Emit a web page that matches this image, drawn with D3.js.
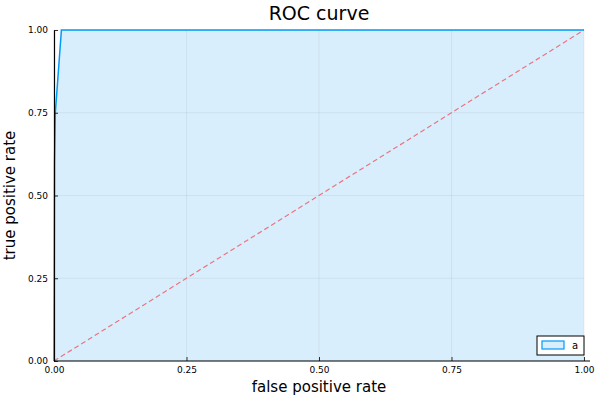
<!DOCTYPE html>
<html>
<head>
<meta charset="utf-8">
<script src="https://cdn.jsdelivr.net/npm/d3@7"></script>
<style>
  body { margin: 0; background: #fff; }
  text { font-family: "DejaVu Sans", sans-serif; }
</style>
</head>
<body>
<div id="chart"></div>
<script>
// ROC curve data
const fpr = [0, 0.001, 0.0025, 0.014, 1.0];
const tpr = [0, 0.6, 0.75, 1.0, 1.0];
const diagX = [0, 1];
const diagY = [0, 1];
const tickValues = [0, 0.25, 0.5, 0.75, 1.0];
const seriesName = "a";

const width = 600, height = 400;
const margin = {top: 30, right: 16, bottom: 39, left: 54};
const w = width - margin.left - margin.right;
const h = height - margin.top - margin.bottom;

const svg = d3.select("#chart").append("svg")
    .attr("width", width)
    .attr("height", height);

const x = d3.scaleLinear().domain([0, 1]).range([0, w]);
const y = d3.scaleLinear().domain([0, 1]).range([h, 0]);

const g = svg.append("g")
    .attr("transform", "translate(" + margin.left + "," + margin.top + ")");

const pts = fpr.map(function(d, i) { return [d, tpr[i]]; });

// filled area under the curve
g.append("path")
    .datum(pts)
    .attr("fill", "#d9eefc")
    .attr("d", d3.area()
        .x(function(d) { return x(d[0]); })
        .y0(y(0))
        .y1(function(d) { return y(d[1]); }));

// grid
g.selectAll(".gx").data(tickValues).enter().append("line")
    .attr("x1", function(d) { return x(d); }).attr("x2", function(d) { return x(d); })
    .attr("y1", 0).attr("y2", h)
    .attr("stroke", "#000").attr("stroke-opacity", 0.1).attr("stroke-width", 0.6);
g.selectAll(".gy").data(tickValues).enter().append("line")
    .attr("y1", function(d) { return y(d); }).attr("y2", function(d) { return y(d); })
    .attr("x1", 0).attr("x2", w)
    .attr("stroke", "#000").attr("stroke-opacity", 0.1).attr("stroke-width", 0.6);

// diagonal reference
g.append("path")
    .datum(diagX.map(function(d, i) { return [d, diagY[i]]; }))
    .attr("fill", "none")
    .attr("stroke", "#ec7480")
    .attr("stroke-width", 1.2)
    .attr("stroke-dasharray", "5,3")
    .attr("d", d3.line().x(function(d) { return x(d[0]); }).y(function(d) { return y(d[1]); }));

// roc line
g.append("path")
    .datum(pts)
    .attr("fill", "none")
    .attr("stroke", "#009afa")
    .attr("stroke-width", 1.5)
    .attr("d", d3.line().x(function(d) { return x(d[0]); }).y(function(d) { return y(d[1]); }));

// axes
const xAxis = g.append("g")
    .attr("transform", "translate(0," + h + ")")
    .call(d3.axisBottom(x).tickValues(tickValues).tickFormat(d3.format(".2f")).tickSizeInner(-4).tickSizeOuter(0).tickPadding(6));
const yAxis = g.append("g")
    .call(d3.axisLeft(y).tickValues(tickValues).tickFormat(d3.format(".2f")).tickSizeInner(-4).tickSizeOuter(0).tickPadding(6));
[xAxis, yAxis].forEach(function(a) {
    a.select(".domain").attr("stroke", "#000").attr("stroke-width", 1.2);
    a.selectAll(".tick line").attr("stroke", "#000").attr("stroke-width", 0.8);
    a.selectAll("text").style("font-family", "DejaVu Sans").style("font-size", "9px").attr("fill", "#000");
});
xAxis.select(".domain").attr("d", "M0,0H" + (w + 6));

// title and labels
svg.append("text")
    .attr("x", margin.left + w / 2).attr("y", 20)
    .attr("text-anchor", "middle")
    .style("font-size", "19px")
    .text("ROC curve");
svg.append("text")
    .attr("x", margin.left + w / 2).attr("y", 392)
    .attr("text-anchor", "middle")
    .style("font-size", "15px")
    .text("false positive rate");
svg.append("text")
    .attr("transform", "translate(15," + (margin.top + h / 2) + ") rotate(-90)")
    .attr("text-anchor", "middle")
    .style("font-size", "15px")
    .text("true positive rate");

// legend
const lg = g.append("g").attr("transform", "translate(" + (w - 47) + "," + (h - 25) + ")");
lg.append("rect").attr("width", 47).attr("height", 19)
    .attr("fill", "#fff").attr("stroke", "#000").attr("stroke-width", 1);
lg.append("rect").attr("x", 5).attr("y", 5).attr("width", 22).attr("height", 8)
    .attr("fill", "#d9eefc").attr("stroke", "#009afa").attr("stroke-width", 1.2);
lg.append("text").attr("x", 35).attr("y", 13)
    .style("font-size", "10px")
    .text(seriesName);
</script>
</body>
</html>
